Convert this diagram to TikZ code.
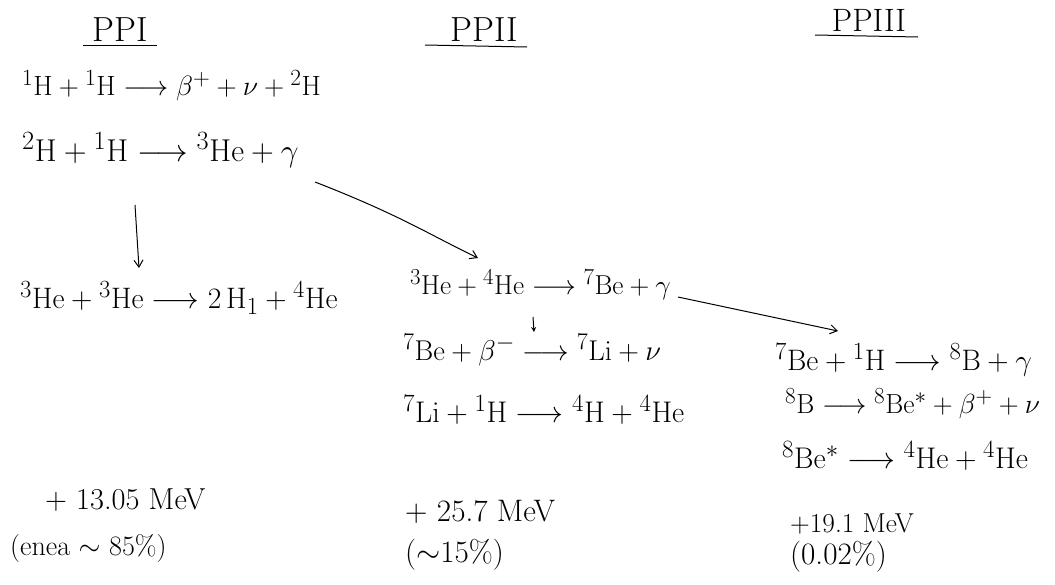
\documentclass[tikz,border=0pt]{standalone}
\usetikzlibrary{arrows.meta}
\usepackage{graphicx}
\begin{document}
\begin{tikzpicture}[x=1pt,y=-1pt,
  eq/.style={anchor=west,inner sep=0pt,font=\fontsize{24.88}{30}\selectfont},
  ttl/.style={anchor=south,inner sep=1pt,font=\fontsize{24.88}{30}\selectfont},
  note/.style={anchor=west,inner sep=0pt,font=\fontsize{24.88}{30}\selectfont},
  flow/.style={-{Straight Barb[length=7pt,width=9pt]},line width=1pt},
  rule/.style={line width=1pt}]
\useasboundingbox (0,0) rectangle (1055,584);
% titles
\node[ttl] (t1) at (120,43) {\scalebox{1.4}{PPI}};
\node[ttl] (t2) at (484,43) {\scalebox{1.4}{PPII}};
\node[ttl] (t3) at (869,33) {\scalebox{1.3}{PPIII}};
\draw[rule] (83,45) -- (157,45);
\draw[rule] (425,45) -- (527,47);
\draw[rule] (815,35) -- (918,37);
% PP I
\node[eq] (a1) at (22,86) {\scalebox{1.12}{${}^{1}\mathrm{H} + {}^{1}\mathrm{H} \longrightarrow \beta^{+} + \nu + {}^{2}\mathrm{H}$}};
\node[eq] (a2) at (22,150) {\scalebox{1.27}{${}^{2}\mathrm{H} + {}^{1}\mathrm{H} \longrightarrow {}^{3}\mathrm{He} + \gamma$}};
\node[eq] (a3) at (20,298) {\scalebox{1.19}{${}^{3}\mathrm{He} + {}^{3}\mathrm{He} \longrightarrow 2\,\mathrm{H}_{1} + {}^{4}\mathrm{He}$}};
\coordinate (d1) at (135,205);
\coordinate (d2) at (139,268);
\draw[flow] (d1) -- (d2);
% PP II
\node[eq] (b1) at (410,285) {\scalebox{1.1}{${}^{3}\mathrm{He} + {}^{4}\mathrm{He} \longrightarrow {}^{7}\mathrm{Be} + \gamma$}};
\node[eq] (b2) at (403,350) {\scalebox{1.15}{${}^{7}\mathrm{Be} + \beta^{-} \longrightarrow {}^{7}\mathrm{Li} + \nu$}};
\node[eq] (b3) at (403,410) {\scalebox{1.2}{${}^{7}\mathrm{Li} + {}^{1}\mathrm{H} \longrightarrow {}^{4}\mathrm{H} + {}^{4}\mathrm{He}$}};
\coordinate (s1) at (315,182);
\coordinate (s2) at (478,258);
\draw[flow] (s1) .. controls (400,215) and (430,235) .. (s2);
\coordinate (m1) at (533,317);
\coordinate (m2) at (534,332);
\draw[-{Stealth[length=5pt,width=5pt]},line width=1pt] (m1) -- (m2);
% PP III
\node[eq] (c1) at (775,360) {\scalebox{1.19}{${}^{7}\mathrm{Be} + {}^{1}\mathrm{H} \longrightarrow {}^{8}\mathrm{B} + \gamma$}};
\node[eq] (c2) at (785,404) {\scalebox{1.11}{${}^{8}\mathrm{B} \longrightarrow {}^{8}\mathrm{Be}^{*} + \beta^{+} + \nu$}};
\node[eq] (c3) at (782,456) {\scalebox{1.2}{${}^{8}\mathrm{Be}^{*} \longrightarrow {}^{4}\mathrm{He} + {}^{4}\mathrm{He}$}};
\coordinate (r1) at (678,297);
\coordinate (r2) at (838,331);
\draw[flow] (r1) -- (r2);
% energies
\node[note] (e1) at (45,500) {\scalebox{1.22}{$+$ 13.05 MeV}};
\node[note] (p1) at (10,548) {\scalebox{1.13}{(enea $\sim$ 85\%)}};
\node[note] (e2) at (405,512) {\scalebox{1.25}{$+$ 25.7 MeV}};
\node[note] (p2) at (405,555) {\scalebox{1.25}{($\sim$15\%)}};
\node[note] (e3) at (790,524) {\scalebox{1.1}{$+$19.1 MeV}};
\node[note] (p3) at (790,557) {\scalebox{1.25}{(0.02\%)}};
\end{tikzpicture}
\end{document}
